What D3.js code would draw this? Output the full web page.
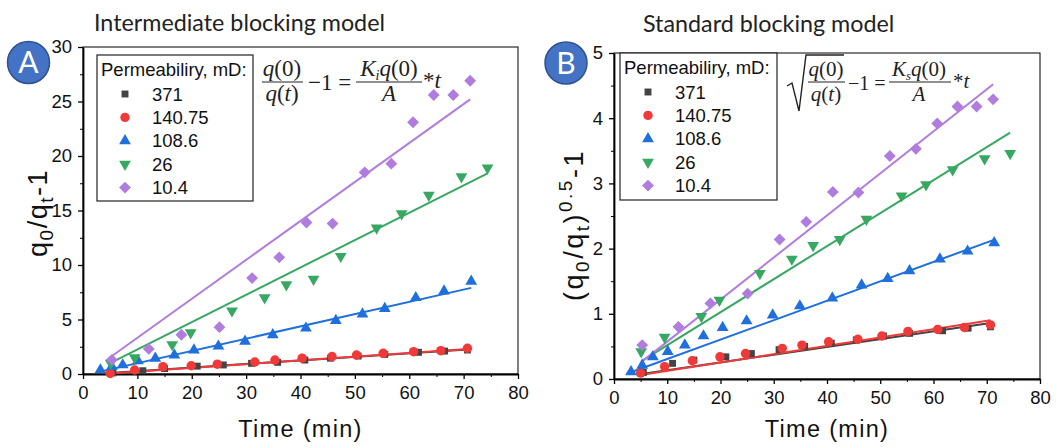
<!DOCTYPE html>
<html><head><meta charset="utf-8">
<script src="https://cdn.jsdelivr.net/npm/d3@7"></script>
<style>body{margin:0;background:#fff}svg{display:block}</style>
</head><body><svg id="c" width="1060" height="448"></svg>
<script>
// ---------- data ----------
const categories = ["371", "140.75", "108.6", "26", "10.4"];
const xTicks = [0, 10, 20, 30, 40, 50, 60, 70, 80];
const yTicksA = [0, 5, 10, 15, 20, 25, 30];
const yTicksB = [0, 1, 2, 3, 4, 5];

const t371 = [5.5, 11, 15, 21, 25.8, 31, 35.8, 40.8, 45.5, 50.6, 55.5, 61.7, 66.5, 70.7];
const a371 = [0.1, 0.3, 0.5, 0.72, 0.83, 0.98, 1.07, 1.28, 1.45, 1.65, 1.8, 1.99, 2.1, 2.2];
const b371 = [0.1, 0.24, 0.29, 0.34, 0.39, 0.45, 0.5, 0.55, 0.6, 0.66, 0.7, 0.74, 0.78, 0.8];

const t140 = [5, 9.5, 14.7, 19.9, 24.7, 31.6, 35.3, 40.3, 45.8, 50.3, 55.2, 60.8, 65.8, 70.7];
const a140 = [0.05, 0.37, 0.67, 0.76, 0.9, 1.1, 1.28, 1.45, 1.6, 1.74, 1.9, 2.05, 2.14, 2.36];
const b140 = [0.09, 0.19, 0.28, 0.34, 0.39, 0.47, 0.52, 0.57, 0.61, 0.66, 0.73, 0.76, 0.79, 0.83];

const t108 = [3.2, 5.3, 7.3, 10.1, 13.3, 16.8, 20.4, 24.9, 29.8, 34.9, 41, 46.5, 51.4, 55.5, 61.2, 66.4, 71.4];
const a108 = [0.37, 0.67, 0.83, 1.2, 1.44, 1.74, 2.2, 2.55, 3.0, 3.6, 4.2, 4.9, 5.5, 6.0, 7.0, 7.6, 8.5];
const b108 = [0.11, 0.21, 0.34, 0.42, 0.52, 0.66, 0.79, 0.89, 0.98, 1.12, 1.24, 1.44, 1.54, 1.66, 1.84, 1.96, 2.09];

const t26 = [5.1, 9.5, 16.4, 19.8, 27.4, 33.4, 37.4, 42.4, 47.4, 54, 58.6, 63.6, 69.6, 74.4];
const a26 = [1.0, 1.5, 2.7, 3.8, 5.8, 7.0, 8.2, 8.7, 10.8, 13.4, 14.7, 16.4, 18.1, 18.9];
const b26 = [0.42, 0.64, 0.96, 1.21, 1.62, 1.84, 2.05, 2.14, 2.45, 2.81, 2.98, 3.21, 3.38, 3.46];

const t10 = [5.3, 12.1, 18.1, 25.1, 31.1, 36.1, 41.1, 45.9, 51.8, 56.7, 60.7, 64.5, 68.1, 71.2];
const a10 = [1.3, 2.3, 3.6, 4.3, 8.8, 10.7, 13.9, 13.8, 18.5, 19.3, 23.1, 25.6, 25.6, 26.9];
const b10 = [0.52, 0.8, 1.16, 1.31, 2.14, 2.41, 2.87, 2.86, 3.42, 3.53, 3.92, 4.18, 4.18, 4.29];

// linear fits: [tStart, vStart, tEnd, vEnd]
const fitA371 = [5, 0.1, 70.7, 2.25];
const fitA140 = [5, 0.05, 70.7, 2.3];
const fitA108 = [2.5, 0.15, 71.4, 7.9];
const fitA26 = [5, 1.0, 74.4, 18.4];
const fitA10 = [5.2, 1.6, 71.2, 25.2];
const fitB371 = [5.5, 0.08, 70.7, 0.86];
const fitB140 = [5, 0.06, 70.7, 0.9];
const fitB108 = [2.4, 0.08, 71.2, 2.13];
const fitB26 = [5.1, 0.27, 74.4, 3.78];
const fitB10 = [5.6, 0.29, 71.2, 4.52];

// ---------- drawing ----------
const colors = ["#444444", "#f03a3a", "#1f6fdc", "#37a862", "#b07ddf"];
const shapes = ["square", "circle", "up", "down", "diamond"];
const svg = d3.select("#c");
const FONT = "'Liberation Sans', Arial, sans-serif";
const SANS2 = "Lato, 'Open Sans', sans-serif";

function symbolPath(shape) {
  if (shape === "square") return d3.symbol(d3.symbolSquare, 48)();
  if (shape === "circle") return d3.symbol(d3.symbolCircle, 70)();
  if (shape === "up" || shape === "down") return d3.symbol(d3.symbolTriangle, 60)();
  return d3.symbol(d3.symbolSquare, 70)();
}
function symbolTransform(shape, x, y) {
  if (shape === "down") return `translate(${x},${y}) rotate(180)`;
  if (shape === "diamond") return `translate(${x},${y}) rotate(45)`;
  return `translate(${x},${y})`;
}

function panel(cfg) {
  const g = svg.append("g");
  const x = d3.scaleLinear().domain([0, 80]).range([cfg.L, cfg.R]);
  const y = d3.scaleLinear().domain([0, cfg.yMax]).range([cfg.B, cfg.T]);

  g.append("rect").attr("x", cfg.L).attr("y", cfg.T).attr("width", cfg.R - cfg.L)
    .attr("height", cfg.B - cfg.T).attr("fill", "none").attr("stroke", "#000").attr("stroke-width", 1);

  const xMinor = d3.range(5, 80, 10);
  const yMinor = cfg.yTicks.slice(0, -1).map((d, i) => (d + cfg.yTicks[i + 1]) / 2);
  g.append("g").attr("transform", `translate(0,${cfg.B})`)
    .call(d3.axisBottom(x).tickValues(xMinor).tickSize(3).tickFormat("").tickSizeOuter(0))
    .call(s => s.select(".domain").remove());
  g.append("g").attr("transform", `translate(${cfg.L},0)`)
    .call(d3.axisLeft(y).tickValues(yMinor).tickSize(3).tickFormat("").tickSizeOuter(0))
    .call(s => s.select(".domain").remove());

  const xa = g.append("g").attr("transform", `translate(0,${cfg.B})`)
    .call(d3.axisBottom(x).tickValues(xTicks).tickSize(5).tickPadding(7).tickSizeOuter(0)
      .tickFormat(d3.format("d")));
  const ya = g.append("g").attr("transform", `translate(${cfg.L},0)`)
    .call(d3.axisLeft(y).tickValues(cfg.yTicks).tickSize(5).tickPadding(6).tickSizeOuter(0)
      .tickFormat(d3.format("d")));
  [xa, ya].forEach(a => {
    a.select(".domain").attr("stroke-width", 1.8);
    a.selectAll(".tick line").attr("stroke-width", 1.3);
    a.selectAll("text").attr("font-family", FONT).attr("font-size", 18.5).attr("fill", "#111");
  });
  g.selectAll(".tick line").attr("stroke", "#000");

  cfg.series.forEach((s, i) => {
    g.append("line")
      .attr("x1", x(s.fit[0])).attr("y1", y(s.fit[1]))
      .attr("x2", x(s.fit[2])).attr("y2", y(s.fit[3]))
      .attr("stroke", colors[i]).attr("stroke-width", 2);
  });
  cfg.series.forEach((s, i) => {
    g.append("g").selectAll("path").data(s.t.map((t, k) => [t, s.v[k]])).join("path")
      .attr("d", symbolPath(shapes[i]))
      .attr("transform", d => symbolTransform(shapes[i], x(d[0]), y(d[1])))
      .attr("fill", colors[i]);
  });

  const lg = g.append("g");
  lg.append("rect").attr("x", cfg.lg.x).attr("y", cfg.lg.y).attr("width", cfg.lg.w).attr("height", cfg.lg.h)
    .attr("fill", "#fff").attr("stroke", "#222").attr("stroke-width", 1.2);
  lg.append("text").attr("x", cfg.lg.x + 4).attr("y", cfg.lg.y + 21)
    .attr("font-family", FONT).attr("font-size", 18.5).attr("fill", "#111").text("Permeabiliry, mD:");
  categories.forEach((c, i) => {
    const cy = cfg.lg.y + 39 + i * 23.4;
    lg.append("path").attr("d", symbolPath(shapes[i]))
      .attr("transform", symbolTransform(shapes[i], cfg.lg.x + 28, cy)).attr("fill", colors[i]);
    lg.append("text").attr("x", cfg.lg.x + 55).attr("y", cy + 6.5)
      .attr("font-family", FONT).attr("font-size", 18.5).attr("fill", "#111").text(c);
  });

  g.append("text").attr("x", cfg.titleX).attr("y", cfg.titleY)
    .attr("font-family", SANS2).attr("font-size", cfg.titleSize).attr("fill", "#222")
    .text(cfg.title);

  g.append("circle").attr("cx", cfg.badge[0]).attr("cy", cfg.badge[1]).attr("r", 21)
    .attr("fill", "#4472c4").attr("stroke", "#2f528f").attr("stroke-width", 1.5);
  g.append("text").attr("x", cfg.badge[0]).attr("y", cfg.badge[1] + 10.5).attr("text-anchor", "middle")
    .attr("font-family", SANS2).attr("font-size", 30).attr("fill", "#fff")
    .text(cfg.badgeText);

  g.append("text").attr("x", (cfg.L + cfg.R) / 2).attr("y", 437).attr("text-anchor", "middle")
    .attr("font-family", FONT).attr("font-size", 23.5).attr("letter-spacing", 1.3).attr("fill", "#111")
    .text("Time (min)");

  return { g, x, y };
}

panel({
  L: 83, R: 518, T: 47, B: 374, yMax: 30, yTicks: yTicksA,
  series: [
    { t: t371, v: a371, fit: fitA371 }, { t: t140, v: a140, fit: fitA140 },
    { t: t108, v: a108, fit: fitA108 }, { t: t26, v: a26, fit: fitA26 },
    { t: t10, v: a10, fit: fitA10 }],
  lg: { x: 97, y: 55, w: 156, h: 146 },
  title: "Intermediate blocking model", titleX: 94, titleY: 31, titleSize: 23.3,
  badge: [28.5, 62.5], badgeText: "A"
});
panel({
  L: 614, R: 1040, T: 53, B: 379, yMax: 5, yTicks: yTicksB,
  series: [
    { t: t371, v: b371, fit: fitB371 }, { t: t140, v: b140, fit: fitB140 },
    { t: t108, v: b108, fit: fitB108 }, { t: t26, v: b26, fit: fitB26 },
    { t: t10, v: b10, fit: fitB10 }],
  lg: { x: 620, y: 53, w: 157, h: 147 },
  title: "Standard blocking model", titleX: 643, titleY: 32, titleSize: 23.3,
  badge: [566, 63], badgeText: "B"
});

// y axis titles
const yTA = svg.append("text").attr("transform", "translate(47,213) rotate(-90)")
  .attr("text-anchor", "middle").attr("font-family", FONT).attr("font-size", 27).attr("fill", "#111")
  .attr("letter-spacing", 1.5);
yTA.append("tspan").text("q");
yTA.append("tspan").attr("font-size", 19).attr("dy", 6).text("0");
yTA.append("tspan").attr("dy", -6).text("/q");
yTA.append("tspan").attr("font-size", 19).attr("dy", 6).text("t");
yTA.append("tspan").attr("dy", -6).text("-1");

const yTB = svg.append("text").attr("transform", "translate(583,225) rotate(-90)")
  .attr("text-anchor", "middle").attr("font-family", FONT).attr("font-size", 27).attr("fill", "#111")
  .attr("letter-spacing", 2.5);
yTB.append("tspan").text("(q");
yTB.append("tspan").attr("font-size", 19).attr("dy", 6).text("0");
yTB.append("tspan").attr("dy", -6).text("/q");
yTB.append("tspan").attr("font-size", 19).attr("dy", 6).text("t");
yTB.append("tspan").attr("dy", -6).text(")");
yTB.append("tspan").attr("font-size", 19).attr("dy", -11).text("0.5");
yTB.append("tspan").attr("dy", 11).text("-1");

// formulas
const SERIF = "'Liberation Serif', 'Times New Roman', serif";
function ftext(x, y, size, parts, anchor) {
  const t = svg.append("text").attr("x", x).attr("y", y).attr("font-family", SERIF)
    .attr("font-size", size).attr("fill", "#222").attr("text-anchor", anchor || "start");
  parts.forEach(p => {
    const s = t.append("tspan").text(p[0]);
    if (p[1]) s.attr("font-style", "italic");
    if (p[2]) s.attr("font-size", p[2]);
    if (p[3] !== undefined) s.attr("dy", p[3]);
  });
  return t;
}
function hbar(x1, x2, y) {
  svg.append("line").attr("x1", x1).attr("x2", x2).attr("y1", y).attr("y2", y)
    .attr("stroke", "#222").attr("stroke-width", 1.2);
}
// Formula A
ftext(282, 76, 23, [["q", 1], ["(0)", 0]], "middle");
hbar(262, 303, 82);
ftext(282, 101, 23, [["q", 1], ["(", 0], ["t", 1], [")", 0]], "middle");
ftext(308, 90, 23, [["\u22121 =", 0]]);
ftext(389, 76, 23, [["K", 1], ["i", 1, 14, 4], ["q", 1, null, -4], ["(0)", 0]], "middle");
hbar(356, 422, 82);
ftext(389, 101, 23, [["A", 1]], "middle");
ftext(423, 88, 23, [["*", 0], ["t", 1]]);
// Formula B
svg.append("path").attr("d", "M787,86 L792,83 L799,111 L806,55 L844,55")
  .attr("fill", "none").attr("stroke", "#222").attr("stroke-width", 1.4);
ftext(826, 76, 21, [["q", 1], ["(0)", 0]], "middle");
hbar(808, 845, 82);
ftext(826, 101, 21, [["q", 1], ["(", 0], ["t", 1], [")", 0]], "middle");
ftext(848, 90, 20, [["\u22121 =", 0]]);
ftext(919, 76, 21, [["K", 1], ["s", 1, 13, 4], ["q", 1, null, -4], ["(0)", 0]], "middle");
hbar(889, 951, 82);
ftext(919, 101, 21, [["A", 1]], "middle");
ftext(953, 88, 21, [["*", 0], ["t", 1]]);
</script>
</body></html>
